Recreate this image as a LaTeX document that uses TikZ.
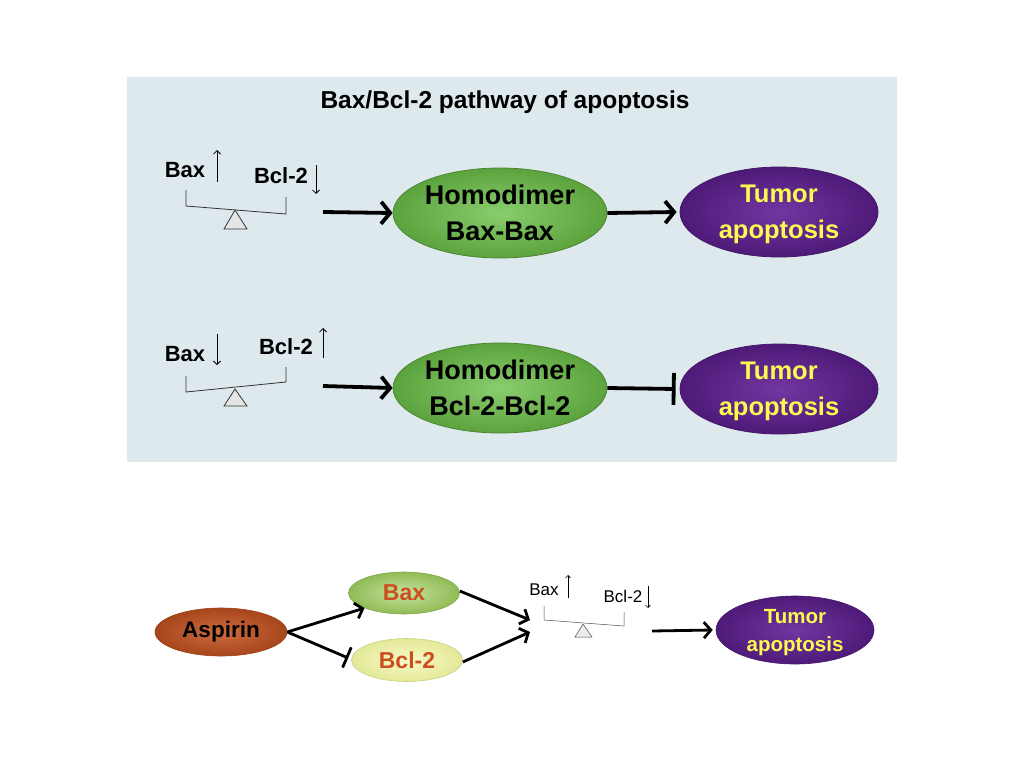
\documentclass[tikz,border=0pt]{standalone}
\usepackage{fontspec}
\setmainfont{Liberation Sans}
\usetikzlibrary{shapes.geometric,arrows.meta}
\definecolor{panel}{RGB}{221,233,236}
\definecolor{hgreen}{RGB}{108,192,72}
\definecolor{tpurple}{RGB}{98,32,150}
\definecolor{tyellow}{RGB}{252,250,80}
\definecolor{asp}{RGB}{196,82,32}
\definecolor{baxg}{RGB}{160,208,95}
\definecolor{bclY}{RGB}{240,245,160}
\definecolor{redtxt}{RGB}{204,78,30}
\begin{document}
\begin{tikzpicture}[x=1pt,y=-1pt,
  homo/.style={ellipse, draw=hgreen!70!black, line width=0.8pt, inner color=hgreen!80!white, outer color=hgreen!85!black,
    minimum width=214pt, minimum height=90pt, inner sep=0pt, align=center, font=\bfseries\fontsize{27}{36}\selectfont},
  tumor/.style={ellipse, draw=tpurple!70!black, line width=0.8pt, inner color=tpurple!90!white, outer color=tpurple!80!black,
    minimum width=198pt, minimum height=90pt, inner sep=0pt, text depth=0pt, align=center, text=tyellow, font=\bfseries\fontsize{25.5}{36}\selectfont},
  lbl/.style={inner sep=0pt, font=\bfseries\fontsize{22}{22}\selectfont},
  slbl/.style={inner sep=0pt, font=\fontsize{17}{17}\selectfont},
  conn/.style={line width=3.8pt, -{Straight Barb[length=9pt,width=22pt]}},
  inh/.style={line width=3.8pt, -{Bar[width=32pt]}},
  tick/.style={line width=0.8pt, -{Straight Barb[length=3.5pt,width=7pt]}},
  beam/.style={line width=0.8pt, black!80},
  fulcrum/.style={line width=0.8pt, black!80, fill=black!10}]
\useasboundingbox (0,0) rectangle (1024,768);
\fill[white] (0,0) rectangle (1024,768);
\fill[panel] (127,77) rectangle (897,462);
\node[inner sep=0pt, font=\bfseries\fontsize{24.5}{25}\selectfont] (title) at (505,102) {Bax/Bcl-2 pathway of apoptosis};

% Row 1
\node[lbl] (bax1) at (185,170) {Bax};
\node[lbl] (bcl1) at (281,176) {Bcl-2};
\draw[tick] (217,182) -- (217,150);
\draw[tick] (316,165) -- (316,194);
\draw[beam] (186,190) -- (186,206) -- (286,214) -- (286,197);
\draw[fulcrum] (235,210) -- (224,229) -- (247,229) -- cycle;
\coordinate (s1) at (323,212);
\node[homo] (homo1) at (500,213) {Homodimer\\Bax-Bax};
\node[tumor] (tum1) at (779,212) {Tumor\\apoptosis};
\draw[conn] (s1) -- (homo1.west);
\draw[conn] (homo1.east) -- ([xshift=-3pt]tum1.west);

% Row 2
\node[lbl] (bax2) at (185,354) {Bax};
\node[lbl] (bcl2) at (286,347) {Bcl-2};
\draw[tick] (217,334) -- (217,365);
\draw[tick] (323,358) -- (323,328);
\draw[beam] (186,376) -- (186,392) -- (286,382) -- (286,367);
\draw[fulcrum] (235,389) -- (224,406) -- (247,406) -- cycle;
\coordinate (s2) at (323,386);
\node[homo] (homo2) at (500,388) {Homodimer\\Bcl-2-Bcl-2};
\node[tumor] (tum2) at (779,389) {Tumor\\apoptosis};
\draw[conn] (s2) -- (homo2.west);
\draw[inh] (homo2.east) -- ([xshift=-4pt]tum2.west);

% Bottom
\node[ellipse, draw=asp!80!black, line width=0.6pt, inner color=asp!85!white, outer color=asp!85!black, minimum width=132pt, minimum height=48pt, inner sep=0pt,
  font=\bfseries\fontsize{22.5}{22}\selectfont] (asp) at (221,632) {Aspirin};
\node[ellipse, draw=baxg!80!black, line width=0.6pt, inner color=baxg!60!white, outer color=baxg!90!black, minimum width=111pt, minimum height=42pt, inner sep=0pt,
  text=redtxt, font=\bfseries\fontsize{23}{22}\selectfont] (bax) at (404,593) {Bax};
\node[ellipse, draw=bclY!85!black, line width=0.6pt, inner color=bclY!60!white, outer color=bclY!95!black, minimum width=111pt, minimum height=43pt, inner sep=0pt,
  text=redtxt, font=\bfseries\fontsize{23}{22}\selectfont] (bcl) at (407,660) {Bcl-2};
\draw[line width=2.8pt, -{Straight Barb[length=7pt,width=16pt]}] (asp.east) -- (bax.south west);
\draw[line width=2.8pt, -{Bar[width=22pt]}] (asp.east) -- ([xshift=-3pt,yshift=2pt]bcl.west);
\coordinate (m1) at (530,620);
\coordinate (m2) at (530,632);
\draw[line width=2.8pt, -{Straight Barb[length=7pt,width=16pt]}] ([yshift=2pt]bax.east) -- (m1);
\draw[line width=2.8pt, -{Straight Barb[length=7pt,width=16pt]}] ([yshift=-2pt]bcl.east) -- (m2);
\node[slbl] (bax3) at (544,590) {Bax};
\node[slbl] (bcl3) at (623,596) {Bcl-2};
\draw[line width=0.6pt, -{Straight Barb[length=2.5pt,width=5pt]}] (568,598) -- (568,575);
\draw[line width=0.6pt, -{Straight Barb[length=2.5pt,width=5pt]}] (648,586) -- (648,608);
\draw[line width=0.5pt, black!70] (544,606) -- (544,620) -- (624,626) -- (624,612);
\draw[line width=0.5pt, black!70, fill=black!8] (583,624) -- (575,637) -- (592,637) -- cycle;
\coordinate (s3) at (652,631);
\node[ellipse, draw=tpurple!70!black, line width=0.6pt, inner color=tpurple!90!white, outer color=tpurple!80!black,
  minimum width=158pt, minimum height=68pt, inner sep=0pt, text depth=0pt, align=center, text=tyellow, font=\bfseries\fontsize{20.5}{28}\selectfont] (tum3) at (795,630) {Tumor\\apoptosis};
\draw[line width=2.8pt, -{Straight Barb[length=7pt,width=16pt]}] (s3) -- ([xshift=-3pt]tum3.west);
\end{tikzpicture}
\end{document}
